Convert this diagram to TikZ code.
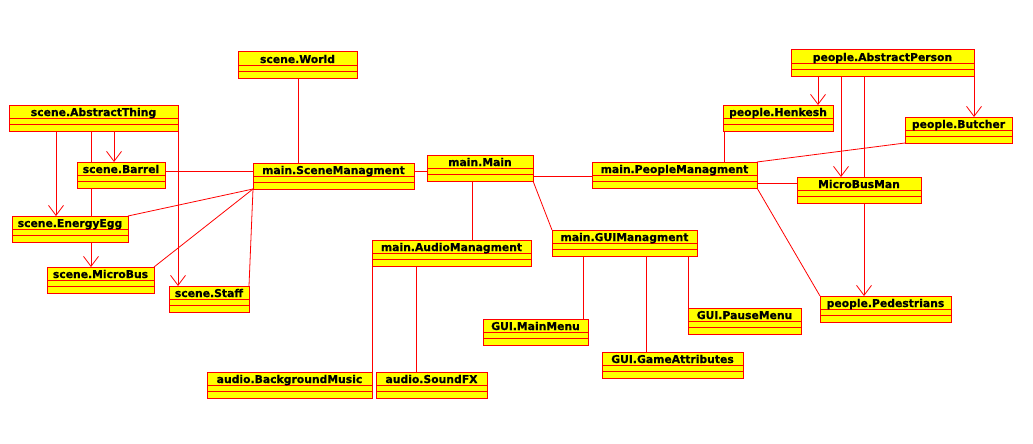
\documentclass[tikz,border=0pt]{standalone}
\usepackage{fontspec}
\setmainfont{DejaVu Sans}[BoldFeatures={FakeBold=0.5}]
\usetikzlibrary{arrows.meta,calc}
\definecolor{umlred}{HTML}{FF0000}
\definecolor{umlyel}{HTML}{FFFF00}
\tikzset{
 clsbox/.style={draw=umlred, fill=umlyel, line width=1pt, inner sep=0pt, outer sep=0pt, anchor=north west},
 clsdiv/.style={draw=umlred, line width=0.8pt},
 clstext/.style={font=\fontsize{10.8}{12}\selectfont\bfseries, text=black, inner sep=0pt, anchor=base},
 assoc/.style={draw=umlred, line width=0.8pt},
 inh/.style={assoc, -{Straight Barb[length=10pt,width=15pt,line width=0.8pt]}},
}
\newcommand\umlcls[6]{%
 \node[clsbox, minimum width={(#4-#2)*1pt}, minimum height={(#5-#3)*1pt}] (#1) at (#2,#3) {};
 \draw[clsdiv] (#2,#3+13) -- (#4,#3+13) (#2,#3+19) -- (#4,#3+19);
 \node[clstext] (#1-t) at ({(#2+#4)/2},#3+11) {#6};
}
\begin{document}
\begin{tikzpicture}[x=1pt,y=-1pt]
\useasboundingbox (0,0) rectangle (1033,444);
% classes
\umlcls{world}{238}{52}{357}{78}{scene.World}
\umlcls{athing}{9}{105}{178}{131}{scene.AbstractThing}
\umlcls{barrel}{77}{162}{165}{188}{scene.Barrel}
\umlcls{egg}{12}{216}{128}{242}{scene.EnergyEgg}
\umlcls{mbus}{47}{267}{154}{293}{scene.MicroBus}
\umlcls{staff}{169}{286}{249}{312}{scene.Staff}
\umlcls{sman}{253}{163}{414}{189}{main.SceneManagment}
\umlcls{main}{427}{155}{533}{181}{main.Main}
\umlcls{aman}{372}{240}{531}{266}{main.AudioManagment}
\umlcls{bgm}{207}{372}{372}{398}{audio.BackgroundMusic}
\umlcls{sfx}{376}{372}{487}{398}{audio.SoundFX}
\umlcls{gman}{552}{230}{697}{256}{main.GUIManagment}
\umlcls{mmenu}{483}{319}{588}{345}{GUI.MainMenu}
\umlcls{gattr}{602}{352}{743}{378}{GUI.GameAttributes}
\umlcls{pmenu}{688}{308}{801}{334}{GUI.PauseMenu}
\umlcls{pman}{592}{162}{757}{188}{main.PeopleManagment}
\umlcls{mbman}{797}{177}{921}{203}{MicroBusMan}
\umlcls{aperson}{791}{50}{974}{76}{people.AbstractPerson}
\umlcls{henkesh}{723}{105}{833}{131}{people.Henkesh}
\umlcls{butcher}{905}{117}{1012}{143}{people.Butcher}
\umlcls{ped}{820}{296}{951}{322}{people.Pedestrians}
% scene connectors
\draw[inh] ([xshift=47pt]athing.south west) coordinate (c1) -- (c1 |- egg.north);
\draw[assoc] ([xshift=82pt]athing.south west) coordinate (c2) -- (c2 |- barrel.north);
\draw[assoc] ([xshift=14pt]barrel.south west) coordinate (c3) -- (c3 |- egg.north);
\draw[inh] ([xshift=79pt]egg.south west) coordinate (c4) -- (c4 |- mbus.north);
\draw[inh] ([xshift=105pt]athing.south west) coordinate (c5) -- (c5 |- barrel.north);
\draw[inh] (athing.south east) -- (athing.south east |- staff.north);
\draw[assoc] ([yshift=4pt]barrel.east) coordinate (c6) -- (c6 -| sman.west);
\draw[assoc] (sman.south west) -- (egg.north east);
\draw[assoc] (sman.south west) -- (mbus.north east);
\draw[assoc] (sman.south west) -- (staff.north east);
\draw[assoc] ([xshift=60pt]world.south west) coordinate (c7) -- (c7 |- sman.north);
\draw[assoc] ([yshift=5pt]sman.east) coordinate (c8) -- (c8 -| main.west);
% main connectors
\draw[assoc] ([xshift=45pt]main.south west) coordinate (c9) -- (c9 |- aman.north);
\draw[assoc] (main.south east) -- (gman.north west);
\draw[assoc] ([yshift=-8pt]main.east) coordinate (c10) -- (c10 -| pman.west);
\draw[assoc] (aman.south west) -- (bgm.north east);
\draw[assoc] ([xshift=44pt]aman.south west) coordinate (c11) -- (c11 |- sfx.north);
\draw[assoc] ([xshift=31pt]gman.south west) coordinate (c12) -- (c12 |- mmenu.north);
\draw[assoc] ([xshift=94pt]gman.south west) coordinate (c13) -- (c13 |- gattr.north);
\draw[assoc] ([xshift=136pt]gman.south west) coordinate (c14) -- (c14 |- pmenu.north);
% people connectors
\draw[assoc] ([xshift=1pt]henkesh.south west) coordinate (c15) -- (c15 |- pman.north);
\draw[assoc] (butcher.south west) -- (pman.north east);
\draw[assoc] ([yshift=-8pt]pman.east) coordinate (c16) -- (c16 -| mbman.west);
\draw[assoc] (pman.south east) -- (ped.north west);
\draw[inh] ([xshift=27pt]aperson.south west) coordinate (c17) -- (c17 |- henkesh.north);
\draw[inh] ([xshift=50pt]aperson.south west) coordinate (c18) -- (c18 |- mbman.north);
\draw[assoc] ([xshift=73pt]aperson.south west) coordinate (c19) -- (c19 |- mbman.north);
\draw[inh] ([xshift=67pt]mbman.south west) coordinate (c20) -- (c20 |- ped.north);
\draw[inh] (aperson.south east) -- (aperson.south east |- butcher.north);
\end{tikzpicture}
\end{document}
